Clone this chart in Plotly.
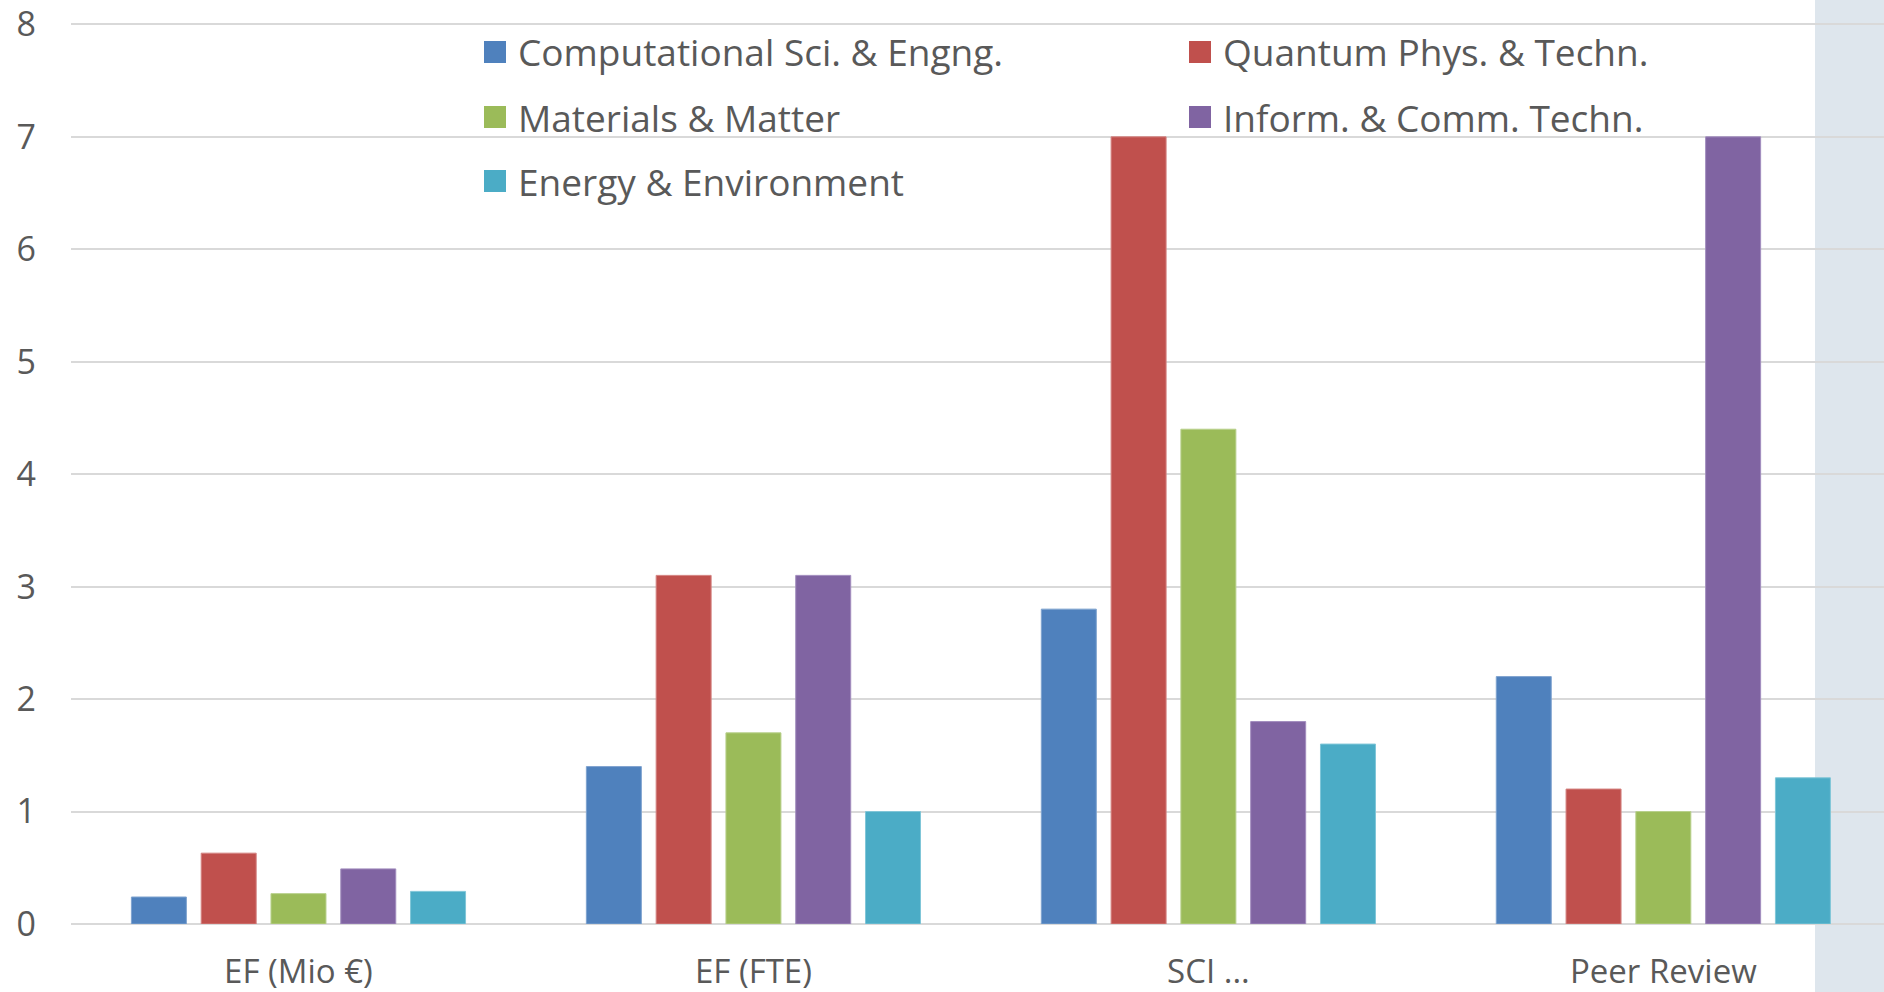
import plotly.graph_objects as go

# Indicator categories on the x axis
categories = ["EF (Mio €)", "EF (FTE)", "SCI ...", "Peer Review"]

# One series per research field
series_names = [
    "Computational Sci. & Engng.",
    "Quantum Phys. & Techn.",
    "Materials & Matter",
    "Inform. & Comm. Techn.",
    "Energy & Environment",
]
comp_sci = [0.24, 1.4, 2.8, 2.2]
quantum = [0.63, 3.1, 7.0, 1.2]
materials = [0.27, 1.7, 4.4, 1.0]
ict = [0.49, 3.1, 1.8, 7.0]
energy = [0.29, 1.0, 1.6, 1.3]

y_ticks = [0, 1, 2, 3, 4, 5, 6, 7, 8]

colors = ["#4F81BD", "#C0504D", "#9BBB59", "#8064A2", "#4BACC6"]
edge_colors = ["#7FA3CF", "#D48381", "#B8D08C", "#A28DBE", "#80C6D8"]

W, H = 1884, 992
ML, MR, MT, MB = 71, 0, 21, 68
TEXT = "#595959"
FONT = "Open Sans"


def px_x(p):
    return (p - ML) / (W - ML - MR)


def px_y(p):
    return (H - MB - p) / (H - MT - MB)


fig = go.Figure()
for name, vals, c, ec in zip(series_names, [comp_sci, quantum, materials, ict, energy], colors, edge_colors):
    fig.add_trace(go.Bar(
        x=categories, y=vals, name=name,
        marker=dict(color=c, line=dict(color=ec, width=1)),
        showlegend=False,
    ))

shapes = [
    # pale side band at the right edge
    dict(type="rect", xref="paper", yref="paper",
         x0=px_x(1815), x1=px_x(1890), y0=px_y(1000), y1=px_y(-5),
         fillcolor="#DEE6ED", line=dict(width=0), layer="below"),
]
annotations = []

# Two-column legend laid out row by row
legend_cols = [484, 1189]
legend_rows = [52, 117, 181]
sw = 22
for i, (name, c) in enumerate(zip(series_names, colors)):
    cx = legend_cols[i % 2]
    cy = legend_rows[i // 2]
    shapes.append(dict(type="rect", xref="paper", yref="paper",
                       x0=px_x(cx), x1=px_x(cx + sw),
                       y0=px_y(cy + sw / 2), y1=px_y(cy - sw / 2),
                       fillcolor=c, line=dict(width=0), layer="above"))
    annotations.append(dict(xref="paper", yref="paper",
                            x=px_x(cx + 32), y=px_y(cy), text=name,
                            showarrow=False, xanchor="left", yanchor="middle",
                            font=dict(family=FONT, size=37, color=TEXT)))

fig.update_layout(
    width=W, height=H,
    margin=dict(l=ML, r=MR, t=MT, b=MB, pad=0, autoexpand=False),
    paper_bgcolor="white", plot_bgcolor="rgba(0,0,0,0)",
    barmode="group", bargap=0.233, bargroupgap=0.212,
    font=dict(family=FONT, size=34, color=TEXT),
    shapes=shapes, annotations=annotations,
    xaxis=dict(type="category", range=[-0.5, 3.485], showgrid=False,
               showline=False, zeroline=False, ticks="", automargin=False,
               tickfont=dict(family=FONT, size=33, color=TEXT),
               ticklabelstandoff=25),
    yaxis=dict(range=[0, 8.03], tickvals=y_ticks, showgrid=True,
               gridcolor="#D9D9D9", gridwidth=2, automargin=False,
               zeroline=True, zerolinecolor="#D9D9D9", zerolinewidth=2,
               showline=False, ticks="", ticklabeloverflow="allow",
               tickfont=dict(family=FONT, size=34, color=TEXT),
               ticklabelstandoff=34),
)

fig.write_html("out.html")
